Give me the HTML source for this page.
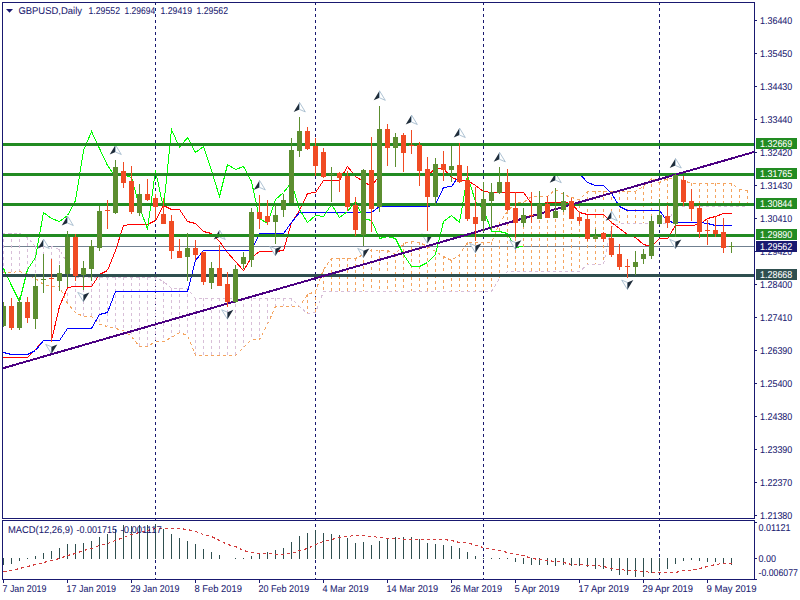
<!DOCTYPE html><html><head><meta charset="utf-8"><style>html,body{margin:0;padding:0;background:#fff;width:800px;height:600px;overflow:hidden}svg{display:block}text{font-family:"Liberation Sans",sans-serif;text-rendering:geometricPrecision}</style></head><body>
<svg width="800" height="600" viewBox="0 0 800 600">
<defs><clipPath id="cm"><rect x="3" y="3" width="751" height="515"/></clipPath><clipPath id="cd"><rect x="3" y="521" width="751" height="58"/></clipPath></defs>
<rect width="800" height="600" fill="#fff"/>
<g clip-path="url(#cm)" shape-rendering="crispEdges">
<line x1="155.5" y1="2" x2="155.5" y2="518" stroke="#191970" stroke-width="1" stroke-dasharray="3 3"/>
<line x1="315.5" y1="2" x2="315.5" y2="518" stroke="#191970" stroke-width="1" stroke-dasharray="3 3"/>
<line x1="483.5" y1="2" x2="483.5" y2="518" stroke="#191970" stroke-width="1" stroke-dasharray="3 3"/>
<line x1="659.5" y1="2" x2="659.5" y2="518" stroke="#191970" stroke-width="1" stroke-dasharray="3 3"/>
<rect x="2" y="246" width="752" height="1" fill="#708090"/>
<line x1="-4.5" y1="233" x2="-4.5" y2="272" stroke="#d8bfd8" stroke-dasharray="3 3"/>
<line x1="3.5" y1="233" x2="3.5" y2="272" stroke="#d8bfd8" stroke-dasharray="3 3"/>
<line x1="11.5" y1="233" x2="11.5" y2="272" stroke="#d8bfd8" stroke-dasharray="3 3"/>
<line x1="19.5" y1="233" x2="19.5" y2="271" stroke="#d8bfd8" stroke-dasharray="3 3"/>
<line x1="27.5" y1="237" x2="27.5" y2="274" stroke="#d8bfd8" stroke-dasharray="3 3"/>
<line x1="35.5" y1="246" x2="35.5" y2="278" stroke="#d8bfd8" stroke-dasharray="3 3"/>
<line x1="43.5" y1="246" x2="43.5" y2="284" stroke="#d8bfd8" stroke-dasharray="3 3"/>
<line x1="51.5" y1="246" x2="51.5" y2="286" stroke="#d8bfd8" stroke-dasharray="3 3"/>
<line x1="59.5" y1="249" x2="59.5" y2="286" stroke="#d8bfd8" stroke-dasharray="3 3"/>
<line x1="67.5" y1="263" x2="67.5" y2="303" stroke="#d8bfd8" stroke-dasharray="3 3"/>
<line x1="75.5" y1="277" x2="75.5" y2="312" stroke="#d8bfd8" stroke-dasharray="3 3"/>
<line x1="83.5" y1="277" x2="83.5" y2="316" stroke="#d8bfd8" stroke-dasharray="3 3"/>
<line x1="91.5" y1="277" x2="91.5" y2="316" stroke="#d8bfd8" stroke-dasharray="3 3"/>
<line x1="99.5" y1="277" x2="99.5" y2="324" stroke="#d8bfd8" stroke-dasharray="3 3"/>
<line x1="107.5" y1="277" x2="107.5" y2="326" stroke="#d8bfd8" stroke-dasharray="3 3"/>
<line x1="115.5" y1="277" x2="115.5" y2="328" stroke="#d8bfd8" stroke-dasharray="3 3"/>
<line x1="123.5" y1="277" x2="123.5" y2="330" stroke="#d8bfd8" stroke-dasharray="3 3"/>
<line x1="131.5" y1="277" x2="131.5" y2="336" stroke="#d8bfd8" stroke-dasharray="3 3"/>
<line x1="139.5" y1="277" x2="139.5" y2="346" stroke="#d8bfd8" stroke-dasharray="3 3"/>
<line x1="147.5" y1="277" x2="147.5" y2="346" stroke="#d8bfd8" stroke-dasharray="3 3"/>
<line x1="155.5" y1="277" x2="155.5" y2="341" stroke="#d8bfd8" stroke-dasharray="3 3"/>
<line x1="163.5" y1="281" x2="163.5" y2="341" stroke="#d8bfd8" stroke-dasharray="3 3"/>
<line x1="171.5" y1="288" x2="171.5" y2="337" stroke="#d8bfd8" stroke-dasharray="3 3"/>
<line x1="179.5" y1="288" x2="179.5" y2="332" stroke="#d8bfd8" stroke-dasharray="3 3"/>
<line x1="187.5" y1="288" x2="187.5" y2="335" stroke="#d8bfd8" stroke-dasharray="3 3"/>
<line x1="195.5" y1="298" x2="195.5" y2="355" stroke="#d8bfd8" stroke-dasharray="3 3"/>
<line x1="203.5" y1="298" x2="203.5" y2="355" stroke="#d8bfd8" stroke-dasharray="3 3"/>
<line x1="211.5" y1="298" x2="211.5" y2="355" stroke="#d8bfd8" stroke-dasharray="3 3"/>
<line x1="219.5" y1="298" x2="219.5" y2="355" stroke="#d8bfd8" stroke-dasharray="3 3"/>
<line x1="227.5" y1="298" x2="227.5" y2="355" stroke="#d8bfd8" stroke-dasharray="3 3"/>
<line x1="235.5" y1="298" x2="235.5" y2="355" stroke="#d8bfd8" stroke-dasharray="3 3"/>
<line x1="243.5" y1="298" x2="243.5" y2="347" stroke="#d8bfd8" stroke-dasharray="3 3"/>
<line x1="251.5" y1="298" x2="251.5" y2="339" stroke="#d8bfd8" stroke-dasharray="3 3"/>
<line x1="259.5" y1="298" x2="259.5" y2="339" stroke="#d8bfd8" stroke-dasharray="3 3"/>
<line x1="267.5" y1="298" x2="267.5" y2="324" stroke="#d8bfd8" stroke-dasharray="3 3"/>
<line x1="275.5" y1="298" x2="275.5" y2="306" stroke="#d8bfd8" stroke-dasharray="3 3"/>
<line x1="283.5" y1="298" x2="283.5" y2="306" stroke="#d8bfd8" stroke-dasharray="3 3"/>
<line x1="291.5" y1="298" x2="291.5" y2="306" stroke="#d8bfd8" stroke-dasharray="3 3"/>
<line x1="299.5" y1="306" x2="299.5" y2="306" stroke="#d8bfd8" stroke-dasharray="3 3"/>
<line x1="307.5" y1="294" x2="307.5" y2="313" stroke="#f4a460" stroke-dasharray="3 3"/>
<line x1="315.5" y1="291" x2="315.5" y2="312" stroke="#f4a460" stroke-dasharray="3 3"/>
<line x1="323.5" y1="269" x2="323.5" y2="291" stroke="#f4a460" stroke-dasharray="3 3"/>
<line x1="331.5" y1="258" x2="331.5" y2="291" stroke="#f4a460" stroke-dasharray="3 3"/>
<line x1="339.5" y1="258" x2="339.5" y2="291" stroke="#f4a460" stroke-dasharray="3 3"/>
<line x1="347.5" y1="258" x2="347.5" y2="291" stroke="#f4a460" stroke-dasharray="3 3"/>
<line x1="355.5" y1="258" x2="355.5" y2="291" stroke="#f4a460" stroke-dasharray="3 3"/>
<line x1="363.5" y1="254" x2="363.5" y2="291" stroke="#f4a460" stroke-dasharray="3 3"/>
<line x1="371.5" y1="249" x2="371.5" y2="291" stroke="#f4a460" stroke-dasharray="3 3"/>
<line x1="379.5" y1="250" x2="379.5" y2="291" stroke="#f4a460" stroke-dasharray="3 3"/>
<line x1="387.5" y1="250" x2="387.5" y2="291" stroke="#f4a460" stroke-dasharray="3 3"/>
<line x1="395.5" y1="254" x2="395.5" y2="291" stroke="#f4a460" stroke-dasharray="3 3"/>
<line x1="403.5" y1="243" x2="403.5" y2="291" stroke="#f4a460" stroke-dasharray="3 3"/>
<line x1="411.5" y1="241" x2="411.5" y2="291" stroke="#f4a460" stroke-dasharray="3 3"/>
<line x1="419.5" y1="242" x2="419.5" y2="291" stroke="#f4a460" stroke-dasharray="3 3"/>
<line x1="427.5" y1="246" x2="427.5" y2="291" stroke="#f4a460" stroke-dasharray="3 3"/>
<line x1="435.5" y1="251" x2="435.5" y2="291" stroke="#f4a460" stroke-dasharray="3 3"/>
<line x1="443.5" y1="256" x2="443.5" y2="291" stroke="#f4a460" stroke-dasharray="3 3"/>
<line x1="451.5" y1="260" x2="451.5" y2="291" stroke="#f4a460" stroke-dasharray="3 3"/>
<line x1="459.5" y1="254" x2="459.5" y2="291" stroke="#f4a460" stroke-dasharray="3 3"/>
<line x1="467.5" y1="242" x2="467.5" y2="291" stroke="#f4a460" stroke-dasharray="3 3"/>
<line x1="475.5" y1="242" x2="475.5" y2="291" stroke="#f4a460" stroke-dasharray="3 3"/>
<line x1="483.5" y1="242" x2="483.5" y2="291" stroke="#f4a460" stroke-dasharray="3 3"/>
<line x1="491.5" y1="242" x2="491.5" y2="291" stroke="#f4a460" stroke-dasharray="3 3"/>
<line x1="499.5" y1="222" x2="499.5" y2="278" stroke="#f4a460" stroke-dasharray="3 3"/>
<line x1="507.5" y1="211" x2="507.5" y2="271" stroke="#f4a460" stroke-dasharray="3 3"/>
<line x1="515.5" y1="202" x2="515.5" y2="271" stroke="#f4a460" stroke-dasharray="3 3"/>
<line x1="523.5" y1="202" x2="523.5" y2="271" stroke="#f4a460" stroke-dasharray="3 3"/>
<line x1="531.5" y1="196" x2="531.5" y2="271" stroke="#f4a460" stroke-dasharray="3 3"/>
<line x1="539.5" y1="196" x2="539.5" y2="271" stroke="#f4a460" stroke-dasharray="3 3"/>
<line x1="547.5" y1="196" x2="547.5" y2="271" stroke="#f4a460" stroke-dasharray="3 3"/>
<line x1="555.5" y1="189" x2="555.5" y2="271" stroke="#f4a460" stroke-dasharray="3 3"/>
<line x1="563.5" y1="194" x2="563.5" y2="271" stroke="#f4a460" stroke-dasharray="3 3"/>
<line x1="571.5" y1="197" x2="571.5" y2="271" stroke="#f4a460" stroke-dasharray="3 3"/>
<line x1="579.5" y1="199" x2="579.5" y2="271" stroke="#f4a460" stroke-dasharray="3 3"/>
<line x1="587.5" y1="191" x2="587.5" y2="264" stroke="#f4a460" stroke-dasharray="3 3"/>
<line x1="595.5" y1="191" x2="595.5" y2="264" stroke="#f4a460" stroke-dasharray="3 3"/>
<line x1="603.5" y1="191" x2="603.5" y2="264" stroke="#f4a460" stroke-dasharray="3 3"/>
<line x1="611.5" y1="191" x2="611.5" y2="226" stroke="#f4a460" stroke-dasharray="3 3"/>
<line x1="619.5" y1="191" x2="619.5" y2="223" stroke="#f4a460" stroke-dasharray="3 3"/>
<line x1="627.5" y1="191" x2="627.5" y2="223" stroke="#f4a460" stroke-dasharray="3 3"/>
<line x1="635.5" y1="191" x2="635.5" y2="223" stroke="#f4a460" stroke-dasharray="3 3"/>
<line x1="643.5" y1="186" x2="643.5" y2="223" stroke="#f4a460" stroke-dasharray="3 3"/>
<line x1="651.5" y1="178" x2="651.5" y2="223" stroke="#f4a460" stroke-dasharray="3 3"/>
<line x1="659.5" y1="182" x2="659.5" y2="223" stroke="#f4a460" stroke-dasharray="3 3"/>
<line x1="667.5" y1="178" x2="667.5" y2="223" stroke="#f4a460" stroke-dasharray="3 3"/>
<line x1="675.5" y1="178" x2="675.5" y2="206" stroke="#f4a460" stroke-dasharray="3 3"/>
<line x1="683.5" y1="180" x2="683.5" y2="206" stroke="#f4a460" stroke-dasharray="3 3"/>
<line x1="691.5" y1="183" x2="691.5" y2="206" stroke="#f4a460" stroke-dasharray="3 3"/>
<line x1="699.5" y1="183" x2="699.5" y2="206" stroke="#f4a460" stroke-dasharray="3 3"/>
<line x1="707.5" y1="183" x2="707.5" y2="206" stroke="#f4a460" stroke-dasharray="3 3"/>
<line x1="715.5" y1="183" x2="715.5" y2="206" stroke="#f4a460" stroke-dasharray="3 3"/>
<line x1="723.5" y1="183" x2="723.5" y2="206" stroke="#f4a460" stroke-dasharray="3 3"/>
<line x1="731.5" y1="183" x2="731.5" y2="206" stroke="#f4a460" stroke-dasharray="3 3"/>
<line x1="739.5" y1="189" x2="739.5" y2="206" stroke="#f4a460" stroke-dasharray="3 3"/>
<line x1="747.5" y1="190" x2="747.5" y2="206" stroke="#f4a460" stroke-dasharray="3 3"/>
<polyline points="-4.5,272.5 3.5,272.5 11.5,272.5 19.5,271.5 27.5,274.5 35.5,278.5 43.5,284.5 51.5,286.5 59.5,286.5 67.5,303.5 75.5,312.5 83.5,316.5 91.5,316.5 99.5,324.5 107.5,326.5 115.5,328.5 123.5,330.5 131.5,336.5 139.5,346.5 147.5,346.5 155.5,341.5 163.5,341.5 171.5,337.5 179.5,332.5 187.5,335.5 195.5,355.5 203.5,355.5 211.5,355.5 219.5,355.5 227.5,355.5 235.5,355.5 243.5,347.5 251.5,339.5 259.5,339.5 267.5,324.5 275.5,306.5 283.5,306.5 291.5,306.5 299.5,306.5 307.5,294.5 315.5,291.5 323.5,269.5 331.5,258.5 339.5,258.5 347.5,258.5 355.5,258.5 363.5,254.5 371.5,249.5 379.5,250.5 387.5,250.5 395.5,254.5 403.5,243.5 411.5,241.5 419.5,242.5 427.5,246.5 435.5,251.5 443.5,256.5 451.5,260.5 459.5,254.5 467.5,242.5 475.5,242.5 483.5,242.5 491.5,242.5 499.5,222.5 507.5,211.5 515.5,202.5 523.5,202.5 531.5,196.5 539.5,196.5 547.5,196.5 555.5,189.5 563.5,194.5 571.5,197.5 579.5,199.5 587.5,191.5 595.5,191.5 603.5,191.5 611.5,191.5 619.5,191.5 627.5,191.5 635.5,191.5 643.5,186.5 651.5,178.5 659.5,182.5 667.5,178.5 675.5,178.5 683.5,180.5 691.5,183.5 699.5,183.5 707.5,183.5 715.5,183.5 723.5,183.5 731.5,183.5 739.5,189.5 747.5,190.5" fill="none" stroke="#f4a460" stroke-width="1" stroke-dasharray="3 3"/>
<polyline points="-4.5,233.5 3.5,233.5 11.5,233.5 19.5,233.5 27.5,237.5 35.5,246.5 43.5,246.5 51.5,246.5 59.5,249.5 67.5,263.5 75.5,277.5 83.5,277.5 91.5,277.5 99.5,277.5 107.5,277.5 115.5,277.5 123.5,277.5 131.5,277.5 139.5,277.5 147.5,277.5 155.5,277.5 163.5,281.5 171.5,288.5 179.5,288.5 187.5,288.5 195.5,298.5 203.5,298.5 211.5,298.5 219.5,298.5 227.5,298.5 235.5,298.5 243.5,298.5 251.5,298.5 259.5,298.5 267.5,298.5 275.5,298.5 283.5,298.5 291.5,298.5 299.5,306.5 307.5,313.5 315.5,312.5 323.5,291.5 331.5,291.5 339.5,291.5 347.5,291.5 355.5,291.5 363.5,291.5 371.5,291.5 379.5,291.5 387.5,291.5 395.5,291.5 403.5,291.5 411.5,291.5 419.5,291.5 427.5,291.5 435.5,291.5 443.5,291.5 451.5,291.5 459.5,291.5 467.5,291.5 475.5,291.5 483.5,291.5 491.5,291.5 499.5,278.5 507.5,271.5 515.5,271.5 523.5,271.5 531.5,271.5 539.5,271.5 547.5,271.5 555.5,271.5 563.5,271.5 571.5,271.5 579.5,271.5 587.5,264.5 595.5,264.5 603.5,264.5 611.5,226.5 619.5,223.5 627.5,223.5 635.5,223.5 643.5,223.5 651.5,223.5 659.5,223.5 667.5,223.5 675.5,206.5 683.5,206.5 691.5,206.5 699.5,206.5 707.5,206.5 715.5,206.5 723.5,206.5 731.5,206.5 739.5,206.5 747.5,206.5" fill="none" stroke="#d8bfd8" stroke-width="1" stroke-dasharray="3 3"/>
<polyline points="-4.5,357.5 3.5,357.5 11.5,357.5 19.5,357.5 27.5,357.5 35.5,349.5 43.5,340.5 51.5,340.5 59.5,306.5 67.5,287.5 75.5,286.5 83.5,286.5 91.5,286.5 99.5,274.5 107.5,270.5 115.5,250.5 123.5,225.5 131.5,224.5 139.5,224.5 147.5,224.5 155.5,220.5 163.5,205.5 171.5,209.5 179.5,209.5 187.5,221.5 195.5,223.5 203.5,231.5 211.5,233.5 219.5,241.5 227.5,252.5 235.5,261.5 243.5,270.5 251.5,257.5 259.5,251.5 267.5,251.5 275.5,251.5 283.5,250.5 291.5,222.5 299.5,210.5 307.5,193.5 315.5,192.5 323.5,180.5 331.5,180.5 339.5,180.5 347.5,166.5 355.5,176.5 363.5,181.5 371.5,186.5 379.5,175.5 387.5,175.5 395.5,175.5 403.5,175.5 411.5,175.5 419.5,175.5 427.5,175.5 435.5,168.5 443.5,168.5 451.5,177.5 459.5,180.5 467.5,180.5 475.5,185.5 483.5,191.5 491.5,192.5 499.5,192.5 507.5,192.5 515.5,192.5 523.5,192.5 531.5,203.5 539.5,204.5 547.5,202.5 555.5,202.5 563.5,202.5 571.5,203.5 579.5,212.5 587.5,214.5 595.5,214.5 603.5,214.5 611.5,222.5 619.5,228.5 627.5,234.5 635.5,237.5 643.5,244.5 651.5,246.5 659.5,238.5 667.5,238.5 675.5,225.5 683.5,225.5 691.5,225.5 699.5,224.5 707.5,218.5 715.5,216.5 723.5,213.5 731.5,213.5" fill="none" stroke="#ff0000" stroke-width="1"/>
<polyline points="-4.5,352.5 3.5,352.5 11.5,354.5 19.5,354.5 27.5,354.5 35.5,350.5 43.5,340.5 51.5,340.5 59.5,340.5 67.5,328.5 75.5,328.5 83.5,328.5 91.5,328.5 99.5,314.5 107.5,312.5 115.5,291.5 123.5,291.5 131.5,291.5 139.5,291.5 147.5,291.5 155.5,291.5 163.5,291.5 171.5,291.5 179.5,291.5 187.5,291.5 195.5,260.5 203.5,250.5 211.5,250.5 219.5,250.5 227.5,250.5 235.5,250.5 243.5,250.5 251.5,250.5 259.5,233.5 267.5,233.5 275.5,233.5 283.5,233.5 291.5,222.5 299.5,212.5 307.5,212.5 315.5,212.5 323.5,212.5 331.5,212.5 339.5,212.5 347.5,212.5 355.5,212.5 363.5,212.5 371.5,212.5 379.5,206.5 387.5,206.5 395.5,206.5 403.5,206.5 411.5,206.5 419.5,206.5 427.5,206.5 435.5,204.5 443.5,187.5 451.5,186.5 459.5,175.5 467.5,175.5 475.5,175.5 483.5,175.5 491.5,175.5 499.5,175.5 507.5,175.5 515.5,175.5 523.5,175.5 531.5,175.5 539.5,175.5 547.5,175.5 555.5,175.5 563.5,175.5 571.5,173.5 579.5,173.5 587.5,182.5 595.5,185.5 603.5,185.5 611.5,193.5 619.5,206.5 627.5,210.5 635.5,210.5 643.5,210.5 651.5,210.5 659.5,210.5 667.5,221.5 675.5,222.5 683.5,222.5 691.5,222.5 699.5,222.5 707.5,223.5 715.5,225.5 723.5,225.5 731.5,225.5" fill="none" stroke="#0000ff" stroke-width="1"/>
<polyline points="-20.5,248.5 -12.5,254.5 -4.5,281.5 3.5,268.5 11.5,285.5 19.5,301.5 27.5,269.5 35.5,257.5 43.5,212.5 51.5,218.5 59.5,221.5 67.5,215.5 75.5,200.5 83.5,150.5 91.5,131.5 99.5,148.5 107.5,165.5 115.5,176.5 123.5,174.5 131.5,177.5 139.5,206.5 147.5,229.5 155.5,170.5 163.5,208.5 171.5,129.5 179.5,147.5 187.5,137.5 195.5,152.5 203.5,146.5 211.5,170.5 219.5,196.5 227.5,164.5 235.5,169.5 243.5,166.5 251.5,181.5 259.5,218.5 267.5,223.5 275.5,199.5 283.5,192.5 291.5,182.5 299.5,209.5 307.5,222.5 315.5,215.5 323.5,216.5 331.5,204.5 339.5,217.5 347.5,211.5 355.5,201.5 363.5,218.5 371.5,220.5 379.5,238.5 387.5,236.5 395.5,238.5 403.5,254.5 411.5,266.5 419.5,266.5 427.5,262.5 435.5,254.5 443.5,221.5 451.5,215.5 459.5,222.5 467.5,175.5 475.5,201.5 483.5,208.5 491.5,231.5 499.5,231.5 507.5,233.5 515.5,247.5 523.5,246.5" fill="none" stroke="#00ff00" stroke-width="1"/>
</g>
<g clip-path="url(#cm)">
<polygon points="43.5,239 37.7,248.5 43.5,246" fill="#1e2c3a"/><polygon points="43.5,239 49.3,248.5 43.5,246" fill="#fff" stroke="#9ab4c8" stroke-width="0.8"/>
<polygon points="51.5,353.8 45.7,344.4 51.5,346.8" fill="#fff" stroke="#9ab4c8" stroke-width="0.8"/><polygon points="51.5,353.8 57.3,344.4 51.5,346.8" fill="#1e2c3a"/>
<polygon points="67.5,216 61.7,225.5 67.5,223" fill="#1e2c3a"/><polygon points="67.5,216 73.3,225.5 67.5,223" fill="#fff" stroke="#9ab4c8" stroke-width="0.8"/>
<polygon points="83.5,301.8 77.7,292.4 83.5,294.8" fill="#fff" stroke="#9ab4c8" stroke-width="0.8"/><polygon points="83.5,301.8 89.3,292.4 83.5,294.8" fill="#1e2c3a"/>
<polygon points="115.5,145 109.7,154.5 115.5,152" fill="#1e2c3a"/><polygon points="115.5,145 121.3,154.5 115.5,152" fill="#fff" stroke="#9ab4c8" stroke-width="0.8"/>
<polygon points="219.5,230 213.7,239.5 219.5,237" fill="#1e2c3a"/><polygon points="219.5,230 225.3,239.5 219.5,237" fill="#fff" stroke="#9ab4c8" stroke-width="0.8"/>
<polygon points="227.5,319.2 221.7,309.79999999999995 227.5,312.2" fill="#fff" stroke="#9ab4c8" stroke-width="0.8"/><polygon points="227.5,319.2 233.3,309.79999999999995 227.5,312.2" fill="#1e2c3a"/>
<polygon points="259.5,180.4 253.7,189.9 259.5,187.4" fill="#1e2c3a"/><polygon points="259.5,180.4 265.3,189.9 259.5,187.4" fill="#fff" stroke="#9ab4c8" stroke-width="0.8"/>
<polygon points="275.5,255.8 269.7,246.4 275.5,248.8" fill="#fff" stroke="#9ab4c8" stroke-width="0.8"/><polygon points="275.5,255.8 281.3,246.4 275.5,248.8" fill="#1e2c3a"/>
<polygon points="299.5,102.4 293.7,111.9 299.5,109.4" fill="#1e2c3a"/><polygon points="299.5,102.4 305.3,111.9 299.5,109.4" fill="#fff" stroke="#9ab4c8" stroke-width="0.8"/>
<polygon points="363.5,257.8 357.7,248.4 363.5,250.8" fill="#fff" stroke="#9ab4c8" stroke-width="0.8"/><polygon points="363.5,257.8 369.3,248.4 363.5,250.8" fill="#1e2c3a"/>
<polygon points="379.5,90.8 373.7,100.3 379.5,97.8" fill="#1e2c3a"/><polygon points="379.5,90.8 385.3,100.3 379.5,97.8" fill="#fff" stroke="#9ab4c8" stroke-width="0.8"/>
<polygon points="411.5,115 405.7,124.5 411.5,122" fill="#1e2c3a"/><polygon points="411.5,115 417.3,124.5 411.5,122" fill="#fff" stroke="#9ab4c8" stroke-width="0.8"/>
<polygon points="427.5,243.3 421.7,233.9 427.5,236.3" fill="#fff" stroke="#9ab4c8" stroke-width="0.8"/><polygon points="427.5,243.3 433.3,233.9 427.5,236.3" fill="#1e2c3a"/>
<polygon points="459.5,128 453.7,137.5 459.5,135" fill="#1e2c3a"/><polygon points="459.5,128 465.3,137.5 459.5,135" fill="#fff" stroke="#9ab4c8" stroke-width="0.8"/>
<polygon points="475.5,252.8 469.7,243.4 475.5,245.8" fill="#fff" stroke="#9ab4c8" stroke-width="0.8"/><polygon points="475.5,252.8 481.3,243.4 475.5,245.8" fill="#1e2c3a"/>
<polygon points="499.5,152.3 493.7,161.8 499.5,159.3" fill="#1e2c3a"/><polygon points="499.5,152.3 505.3,161.8 499.5,159.3" fill="#fff" stroke="#9ab4c8" stroke-width="0.8"/>
<polygon points="515.5,249.60000000000002 509.7,240.20000000000002 515.5,242.60000000000002" fill="#fff" stroke="#9ab4c8" stroke-width="0.8"/><polygon points="515.5,249.60000000000002 521.3,240.20000000000002 515.5,242.60000000000002" fill="#1e2c3a"/>
<polygon points="555.5,173.2 549.7,182.7 555.5,180.2" fill="#1e2c3a"/><polygon points="555.5,173.2 561.3,182.7 555.5,180.2" fill="#fff" stroke="#9ab4c8" stroke-width="0.8"/>
<polygon points="611.5,211.2 605.7,220.7 611.5,218.2" fill="#1e2c3a"/><polygon points="611.5,211.2 617.3,220.7 611.5,218.2" fill="#fff" stroke="#9ab4c8" stroke-width="0.8"/>
<polygon points="627.5,289.5 621.7,280.09999999999997 627.5,282.5" fill="#fff" stroke="#9ab4c8" stroke-width="0.8"/><polygon points="627.5,289.5 633.3,280.09999999999997 627.5,282.5" fill="#1e2c3a"/>
<polygon points="675.5,158.5 669.7,168.0 675.5,165.5" fill="#1e2c3a"/><polygon points="675.5,158.5 681.3,168.0 675.5,165.5" fill="#fff" stroke="#9ab4c8" stroke-width="0.8"/>
<polygon points="675.5,248.8 669.7,239.4 675.5,241.8" fill="#fff" stroke="#9ab4c8" stroke-width="0.8"/><polygon points="675.5,248.8 681.3,239.4 675.5,241.8" fill="#1e2c3a"/>
</g>
<g clip-path="url(#cm)" shape-rendering="crispEdges">
<rect x="2" y="143" width="752" height="3" fill="#228b22"/>
<rect x="2" y="173" width="752" height="3" fill="#228b22"/>
<rect x="2" y="203" width="752" height="3" fill="#228b22"/>
<rect x="2" y="234" width="752" height="3" fill="#228b22"/>
<rect x="2" y="274" width="752" height="3" fill="#2f4f4f"/>
<line x1="2" y1="368.5" x2="754" y2="152.0" stroke="#4b0082" stroke-width="2"/>
<rect x="3" y="302" width="1" height="25" fill="#5c8e30"/>
<rect x="1" y="306" width="5" height="20" fill="#5c8e30"/>
<rect x="11" y="298" width="1" height="32" fill="#f04b23"/>
<rect x="9" y="306" width="5" height="22" fill="#f04b23"/>
<rect x="19" y="297" width="1" height="33" fill="#5c8e30"/>
<rect x="17" y="302" width="5" height="26" fill="#5c8e30"/>
<rect x="27" y="297" width="1" height="26" fill="#f04b23"/>
<rect x="25" y="302" width="5" height="16" fill="#f04b23"/>
<rect x="35" y="274" width="1" height="55" fill="#5c8e30"/>
<rect x="33" y="286" width="5" height="33" fill="#5c8e30"/>
<rect x="43" y="254" width="1" height="39" fill="#5c8e30"/>
<rect x="41" y="279" width="5" height="1" fill="#5c8e30"/>
<rect x="51" y="259" width="1" height="83" fill="#f04b23"/>
<rect x="49" y="278" width="5" height="1" fill="#f04b23"/>
<rect x="59" y="265" width="1" height="26" fill="#5c8e30"/>
<rect x="57" y="273" width="5" height="8" fill="#5c8e30"/>
<rect x="67" y="231" width="1" height="56" fill="#5c8e30"/>
<rect x="65" y="237" width="5" height="37" fill="#5c8e30"/>
<rect x="75" y="234" width="1" height="47" fill="#f04b23"/>
<rect x="73" y="237" width="5" height="39" fill="#f04b23"/>
<rect x="83" y="261" width="1" height="29" fill="#5c8e30"/>
<rect x="81" y="268" width="5" height="7" fill="#5c8e30"/>
<rect x="91" y="240" width="1" height="41" fill="#5c8e30"/>
<rect x="89" y="246" width="5" height="23" fill="#5c8e30"/>
<rect x="99" y="206" width="1" height="45" fill="#5c8e30"/>
<rect x="97" y="211" width="5" height="37" fill="#5c8e30"/>
<rect x="107" y="200" width="1" height="29" fill="#f04b23"/>
<rect x="105" y="210" width="5" height="1" fill="#f04b23"/>
<rect x="115" y="160" width="1" height="54" fill="#5c8e30"/>
<rect x="113" y="167" width="5" height="46" fill="#5c8e30"/>
<rect x="123" y="162" width="1" height="26" fill="#f04b23"/>
<rect x="121" y="171" width="5" height="12" fill="#f04b23"/>
<rect x="131" y="166" width="1" height="48" fill="#f04b23"/>
<rect x="129" y="181" width="5" height="31" fill="#f04b23"/>
<rect x="139" y="184" width="1" height="32" fill="#5c8e30"/>
<rect x="137" y="194" width="5" height="19" fill="#5c8e30"/>
<rect x="147" y="179" width="1" height="22" fill="#f04b23"/>
<rect x="145" y="194" width="5" height="6" fill="#f04b23"/>
<rect x="155" y="194" width="1" height="26" fill="#f04b23"/>
<rect x="153" y="198" width="5" height="9" fill="#f04b23"/>
<rect x="163" y="198" width="1" height="26" fill="#f04b23"/>
<rect x="161" y="214" width="5" height="10" fill="#f04b23"/>
<rect x="171" y="215" width="1" height="44" fill="#f04b23"/>
<rect x="169" y="221" width="5" height="30" fill="#f04b23"/>
<rect x="179" y="239" width="1" height="19" fill="#f04b23"/>
<rect x="177" y="251" width="5" height="7" fill="#f04b23"/>
<rect x="187" y="233" width="1" height="48" fill="#5c8e30"/>
<rect x="185" y="248" width="5" height="9" fill="#5c8e30"/>
<rect x="195" y="240" width="1" height="20" fill="#f04b23"/>
<rect x="193" y="248" width="5" height="7" fill="#f04b23"/>
<rect x="203" y="252" width="1" height="33" fill="#f04b23"/>
<rect x="201" y="252" width="5" height="30" fill="#f04b23"/>
<rect x="211" y="262" width="1" height="27" fill="#5c8e30"/>
<rect x="209" y="268" width="5" height="15" fill="#5c8e30"/>
<rect x="219" y="245" width="1" height="41" fill="#f04b23"/>
<rect x="217" y="268" width="5" height="18" fill="#f04b23"/>
<rect x="227" y="272" width="1" height="35" fill="#f04b23"/>
<rect x="225" y="284" width="5" height="18" fill="#f04b23"/>
<rect x="235" y="265" width="1" height="38" fill="#5c8e30"/>
<rect x="233" y="269" width="5" height="33" fill="#5c8e30"/>
<rect x="243" y="252" width="1" height="17" fill="#5c8e30"/>
<rect x="241" y="257" width="5" height="7" fill="#5c8e30"/>
<rect x="251" y="208" width="1" height="59" fill="#5c8e30"/>
<rect x="249" y="212" width="5" height="48" fill="#5c8e30"/>
<rect x="259" y="195" width="1" height="34" fill="#f04b23"/>
<rect x="257" y="212" width="5" height="7" fill="#f04b23"/>
<rect x="267" y="200" width="1" height="25" fill="#f04b23"/>
<rect x="265" y="216" width="5" height="6" fill="#f04b23"/>
<rect x="275" y="205" width="1" height="39" fill="#5c8e30"/>
<rect x="273" y="215" width="5" height="7" fill="#5c8e30"/>
<rect x="283" y="194" width="1" height="23" fill="#5c8e30"/>
<rect x="281" y="200" width="5" height="10" fill="#5c8e30"/>
<rect x="291" y="138" width="1" height="65" fill="#5c8e30"/>
<rect x="289" y="150" width="5" height="53" fill="#5c8e30"/>
<rect x="299" y="117" width="1" height="40" fill="#5c8e30"/>
<rect x="297" y="131" width="5" height="20" fill="#5c8e30"/>
<rect x="307" y="127" width="1" height="23" fill="#f04b23"/>
<rect x="305" y="131" width="5" height="18" fill="#f04b23"/>
<rect x="315" y="138" width="1" height="38" fill="#f04b23"/>
<rect x="313" y="146" width="5" height="20" fill="#f04b23"/>
<rect x="323" y="148" width="1" height="30" fill="#f04b23"/>
<rect x="321" y="152" width="5" height="25" fill="#f04b23"/>
<rect x="331" y="167" width="1" height="35" fill="#5c8e30"/>
<rect x="329" y="174" width="5" height="1" fill="#5c8e30"/>
<rect x="339" y="172" width="1" height="20" fill="#f04b23"/>
<rect x="337" y="173" width="5" height="5" fill="#f04b23"/>
<rect x="347" y="171" width="1" height="40" fill="#f04b23"/>
<rect x="345" y="176" width="5" height="31" fill="#f04b23"/>
<rect x="355" y="197" width="1" height="39" fill="#f04b23"/>
<rect x="353" y="205" width="5" height="25" fill="#f04b23"/>
<rect x="363" y="169" width="1" height="77" fill="#5c8e30"/>
<rect x="361" y="170" width="5" height="65" fill="#5c8e30"/>
<rect x="371" y="137" width="1" height="95" fill="#f04b23"/>
<rect x="369" y="170" width="5" height="39" fill="#f04b23"/>
<rect x="379" y="106" width="1" height="106" fill="#5c8e30"/>
<rect x="377" y="129" width="5" height="78" fill="#5c8e30"/>
<rect x="387" y="124" width="1" height="42" fill="#f04b23"/>
<rect x="385" y="129" width="5" height="19" fill="#f04b23"/>
<rect x="395" y="133" width="1" height="34" fill="#5c8e30"/>
<rect x="393" y="137" width="5" height="11" fill="#5c8e30"/>
<rect x="403" y="133" width="1" height="39" fill="#f04b23"/>
<rect x="401" y="135" width="5" height="18" fill="#f04b23"/>
<rect x="411" y="130" width="1" height="24" fill="#f04b23"/>
<rect x="409" y="145" width="5" height="1" fill="#f04b23"/>
<rect x="419" y="142" width="1" height="44" fill="#f04b23"/>
<rect x="417" y="145" width="5" height="26" fill="#f04b23"/>
<rect x="427" y="157" width="1" height="74" fill="#f04b23"/>
<rect x="425" y="169" width="5" height="28" fill="#f04b23"/>
<rect x="435" y="158" width="1" height="47" fill="#5c8e30"/>
<rect x="433" y="164" width="5" height="33" fill="#5c8e30"/>
<rect x="443" y="151" width="1" height="30" fill="#f04b23"/>
<rect x="441" y="164" width="5" height="6" fill="#f04b23"/>
<rect x="451" y="146" width="1" height="36" fill="#5c8e30"/>
<rect x="449" y="166" width="5" height="4" fill="#5c8e30"/>
<rect x="459" y="143" width="1" height="40" fill="#f04b23"/>
<rect x="457" y="165" width="5" height="17" fill="#f04b23"/>
<rect x="467" y="166" width="1" height="55" fill="#f04b23"/>
<rect x="465" y="180" width="5" height="39" fill="#f04b23"/>
<rect x="475" y="187" width="1" height="54" fill="#f04b23"/>
<rect x="473" y="217" width="5" height="7" fill="#f04b23"/>
<rect x="483" y="182" width="1" height="50" fill="#5c8e30"/>
<rect x="481" y="199" width="5" height="22" fill="#5c8e30"/>
<rect x="491" y="183" width="1" height="47" fill="#5c8e30"/>
<rect x="489" y="192" width="5" height="9" fill="#5c8e30"/>
<rect x="499" y="167" width="1" height="27" fill="#5c8e30"/>
<rect x="497" y="182" width="5" height="11" fill="#5c8e30"/>
<rect x="507" y="169" width="1" height="42" fill="#f04b23"/>
<rect x="505" y="182" width="5" height="28" fill="#f04b23"/>
<rect x="515" y="192" width="1" height="46" fill="#f04b23"/>
<rect x="513" y="208" width="5" height="15" fill="#f04b23"/>
<rect x="523" y="208" width="1" height="19" fill="#5c8e30"/>
<rect x="521" y="215" width="5" height="8" fill="#5c8e30"/>
<rect x="531" y="192" width="1" height="31" fill="#f04b23"/>
<rect x="529" y="215" width="5" height="1" fill="#f04b23"/>
<rect x="539" y="191" width="1" height="28" fill="#5c8e30"/>
<rect x="537" y="204" width="5" height="15" fill="#5c8e30"/>
<rect x="547" y="196" width="1" height="22" fill="#f04b23"/>
<rect x="545" y="204" width="5" height="14" fill="#f04b23"/>
<rect x="555" y="188" width="1" height="30" fill="#5c8e30"/>
<rect x="553" y="211" width="5" height="7" fill="#5c8e30"/>
<rect x="563" y="192" width="1" height="20" fill="#5c8e30"/>
<rect x="561" y="201" width="5" height="9" fill="#5c8e30"/>
<rect x="571" y="198" width="1" height="21" fill="#f04b23"/>
<rect x="569" y="201" width="5" height="18" fill="#f04b23"/>
<rect x="579" y="212" width="1" height="12" fill="#f04b23"/>
<rect x="577" y="217" width="5" height="4" fill="#f04b23"/>
<rect x="587" y="215" width="1" height="26" fill="#f04b23"/>
<rect x="585" y="219" width="5" height="20" fill="#f04b23"/>
<rect x="595" y="229" width="1" height="10" fill="#5c8e30"/>
<rect x="593" y="236" width="5" height="3" fill="#5c8e30"/>
<rect x="603" y="232" width="1" height="10" fill="#f04b23"/>
<rect x="601" y="233" width="5" height="6" fill="#f04b23"/>
<rect x="611" y="226" width="1" height="31" fill="#f04b23"/>
<rect x="609" y="238" width="5" height="17" fill="#f04b23"/>
<rect x="619" y="244" width="1" height="26" fill="#f04b23"/>
<rect x="617" y="254" width="5" height="13" fill="#f04b23"/>
<rect x="627" y="259" width="1" height="19" fill="#f04b23"/>
<rect x="625" y="266" width="5" height="1" fill="#f04b23"/>
<rect x="635" y="251" width="1" height="24" fill="#5c8e30"/>
<rect x="633" y="262" width="5" height="5" fill="#5c8e30"/>
<rect x="643" y="249" width="1" height="15" fill="#5c8e30"/>
<rect x="641" y="254" width="5" height="5" fill="#5c8e30"/>
<rect x="651" y="216" width="1" height="43" fill="#5c8e30"/>
<rect x="649" y="221" width="5" height="35" fill="#5c8e30"/>
<rect x="659" y="199" width="1" height="26" fill="#5c8e30"/>
<rect x="657" y="215" width="5" height="9" fill="#5c8e30"/>
<rect x="667" y="205" width="1" height="23" fill="#f04b23"/>
<rect x="665" y="216" width="5" height="7" fill="#f04b23"/>
<rect x="675" y="174" width="1" height="63" fill="#5c8e30"/>
<rect x="673" y="175" width="5" height="49" fill="#5c8e30"/>
<rect x="683" y="176" width="1" height="30" fill="#f04b23"/>
<rect x="681" y="180" width="5" height="22" fill="#f04b23"/>
<rect x="691" y="189" width="1" height="32" fill="#f04b23"/>
<rect x="689" y="201" width="5" height="8" fill="#f04b23"/>
<rect x="699" y="205" width="1" height="33" fill="#f04b23"/>
<rect x="697" y="208" width="5" height="24" fill="#f04b23"/>
<rect x="707" y="220" width="1" height="25" fill="#f04b23"/>
<rect x="705" y="230" width="5" height="1" fill="#f04b23"/>
<rect x="715" y="216" width="1" height="21" fill="#f04b23"/>
<rect x="713" y="230" width="5" height="4" fill="#f04b23"/>
<rect x="723" y="218" width="1" height="35" fill="#f04b23"/>
<rect x="721" y="232" width="5" height="16" fill="#f04b23"/>
<rect x="731" y="242" width="1" height="11" fill="#5c8e30"/>
<rect x="729" y="246" width="5" height="1" fill="#5c8e30"/>
</g>
<g clip-path="url(#cd)" shape-rendering="crispEdges">
<line x1="155.5" y1="518" x2="155.5" y2="580" stroke="#191970" stroke-width="1" stroke-dasharray="3 3"/>
<line x1="315.5" y1="518" x2="315.5" y2="580" stroke="#191970" stroke-width="1" stroke-dasharray="3 3"/>
<line x1="483.5" y1="518" x2="483.5" y2="580" stroke="#191970" stroke-width="1" stroke-dasharray="3 3"/>
<line x1="659.5" y1="518" x2="659.5" y2="580" stroke="#191970" stroke-width="1" stroke-dasharray="3 3"/>
<rect x="3" y="558" width="1" height="7" fill="#2f4f4f"/>
<rect x="11" y="558" width="1" height="6" fill="#2f4f4f"/>
<rect x="19" y="558" width="1" height="3" fill="#2f4f4f"/>
<rect x="27" y="558" width="1" height="1" fill="#2f4f4f"/>
<rect x="35" y="556" width="1" height="3" fill="#2f4f4f"/>
<rect x="43" y="553" width="1" height="6" fill="#2f4f4f"/>
<rect x="51" y="551" width="1" height="8" fill="#2f4f4f"/>
<rect x="59" y="548" width="1" height="11" fill="#2f4f4f"/>
<rect x="67" y="544" width="1" height="15" fill="#2f4f4f"/>
<rect x="75" y="544" width="1" height="15" fill="#2f4f4f"/>
<rect x="83" y="543" width="1" height="16" fill="#2f4f4f"/>
<rect x="91" y="541" width="1" height="18" fill="#2f4f4f"/>
<rect x="99" y="537" width="1" height="22" fill="#2f4f4f"/>
<rect x="107" y="534" width="1" height="25" fill="#2f4f4f"/>
<rect x="115" y="529" width="1" height="30" fill="#2f4f4f"/>
<rect x="123" y="525" width="1" height="34" fill="#2f4f4f"/>
<rect x="131" y="526" width="1" height="33" fill="#2f4f4f"/>
<rect x="139" y="525" width="1" height="34" fill="#2f4f4f"/>
<rect x="147" y="525" width="1" height="34" fill="#2f4f4f"/>
<rect x="155" y="524" width="1" height="35" fill="#2f4f4f"/>
<rect x="163" y="529" width="1" height="30" fill="#2f4f4f"/>
<rect x="171" y="534" width="1" height="25" fill="#2f4f4f"/>
<rect x="179" y="538" width="1" height="21" fill="#2f4f4f"/>
<rect x="187" y="541" width="1" height="18" fill="#2f4f4f"/>
<rect x="195" y="544" width="1" height="15" fill="#2f4f4f"/>
<rect x="203" y="549" width="1" height="10" fill="#2f4f4f"/>
<rect x="211" y="552" width="1" height="7" fill="#2f4f4f"/>
<rect x="219" y="555" width="1" height="4" fill="#2f4f4f"/>
<rect x="235" y="558" width="1" height="1" fill="#2f4f4f"/>
<rect x="243" y="558" width="1" height="1" fill="#2f4f4f"/>
<rect x="251" y="556" width="1" height="3" fill="#2f4f4f"/>
<rect x="259" y="553" width="1" height="6" fill="#2f4f4f"/>
<rect x="267" y="552" width="1" height="7" fill="#2f4f4f"/>
<rect x="275" y="550" width="1" height="9" fill="#2f4f4f"/>
<rect x="283" y="548" width="1" height="11" fill="#2f4f4f"/>
<rect x="291" y="542" width="1" height="17" fill="#2f4f4f"/>
<rect x="299" y="536" width="1" height="23" fill="#2f4f4f"/>
<rect x="307" y="533" width="1" height="26" fill="#2f4f4f"/>
<rect x="315" y="530" width="1" height="29" fill="#2f4f4f"/>
<rect x="323" y="533" width="1" height="26" fill="#2f4f4f"/>
<rect x="331" y="534" width="1" height="25" fill="#2f4f4f"/>
<rect x="339" y="535" width="1" height="24" fill="#2f4f4f"/>
<rect x="347" y="538" width="1" height="21" fill="#2f4f4f"/>
<rect x="355" y="543" width="1" height="16" fill="#2f4f4f"/>
<rect x="363" y="542" width="1" height="17" fill="#2f4f4f"/>
<rect x="371" y="545" width="1" height="14" fill="#2f4f4f"/>
<rect x="379" y="541" width="1" height="18" fill="#2f4f4f"/>
<rect x="387" y="538" width="1" height="21" fill="#2f4f4f"/>
<rect x="395" y="537" width="1" height="22" fill="#2f4f4f"/>
<rect x="403" y="537" width="1" height="22" fill="#2f4f4f"/>
<rect x="411" y="537" width="1" height="22" fill="#2f4f4f"/>
<rect x="419" y="539" width="1" height="20" fill="#2f4f4f"/>
<rect x="427" y="543" width="1" height="16" fill="#2f4f4f"/>
<rect x="435" y="544" width="1" height="15" fill="#2f4f4f"/>
<rect x="443" y="545" width="1" height="14" fill="#2f4f4f"/>
<rect x="451" y="546" width="1" height="13" fill="#2f4f4f"/>
<rect x="459" y="548" width="1" height="11" fill="#2f4f4f"/>
<rect x="467" y="552" width="1" height="7" fill="#2f4f4f"/>
<rect x="475" y="556" width="1" height="3" fill="#2f4f4f"/>
<rect x="483" y="558" width="1" height="1" fill="#2f4f4f"/>
<rect x="491" y="558" width="1" height="1" fill="#2f4f4f"/>
<rect x="499" y="558" width="1" height="1" fill="#2f4f4f"/>
<rect x="507" y="558" width="1" height="1" fill="#2f4f4f"/>
<rect x="515" y="558" width="1" height="4" fill="#2f4f4f"/>
<rect x="523" y="558" width="1" height="6" fill="#2f4f4f"/>
<rect x="531" y="558" width="1" height="7" fill="#2f4f4f"/>
<rect x="539" y="558" width="1" height="7" fill="#2f4f4f"/>
<rect x="547" y="558" width="1" height="7" fill="#2f4f4f"/>
<rect x="555" y="558" width="1" height="8" fill="#2f4f4f"/>
<rect x="563" y="558" width="1" height="7" fill="#2f4f4f"/>
<rect x="571" y="558" width="1" height="8" fill="#2f4f4f"/>
<rect x="579" y="558" width="1" height="8" fill="#2f4f4f"/>
<rect x="587" y="558" width="1" height="9" fill="#2f4f4f"/>
<rect x="595" y="558" width="1" height="11" fill="#2f4f4f"/>
<rect x="603" y="558" width="1" height="11" fill="#2f4f4f"/>
<rect x="611" y="558" width="1" height="13" fill="#2f4f4f"/>
<rect x="619" y="558" width="1" height="17" fill="#2f4f4f"/>
<rect x="627" y="558" width="1" height="17" fill="#2f4f4f"/>
<rect x="635" y="558" width="1" height="19" fill="#2f4f4f"/>
<rect x="643" y="558" width="1" height="19" fill="#2f4f4f"/>
<rect x="651" y="558" width="1" height="15" fill="#2f4f4f"/>
<rect x="659" y="558" width="1" height="13" fill="#2f4f4f"/>
<rect x="667" y="558" width="1" height="11" fill="#2f4f4f"/>
<rect x="675" y="558" width="1" height="6" fill="#2f4f4f"/>
<rect x="683" y="558" width="1" height="3" fill="#2f4f4f"/>
<rect x="691" y="558" width="1" height="2" fill="#2f4f4f"/>
<rect x="699" y="558" width="1" height="3" fill="#2f4f4f"/>
<rect x="707" y="558" width="1" height="4" fill="#2f4f4f"/>
<rect x="715" y="558" width="1" height="4" fill="#2f4f4f"/>
<rect x="723" y="558" width="1" height="6" fill="#2f4f4f"/>
<rect x="731" y="558" width="1" height="7" fill="#2f4f4f"/>
<polyline points="3.5,571.5 11.5,570.5 19.5,568.5 27.5,566.5 35.5,564.5 43.5,562.5 51.5,560.5 59.5,558.5 67.5,555.5 75.5,553.5 83.5,550.5 91.5,548.5 99.5,545.5 107.5,543.5 115.5,540.5 123.5,537.5 131.5,534.5 139.5,532.5 147.5,530.5 155.5,528.5 163.5,528.5 171.5,528.5 179.5,528.5 187.5,529.5 195.5,531.5 203.5,534.5 211.5,536.5 219.5,540.5 227.5,544.5 235.5,546.5 243.5,550.5 251.5,552.5 259.5,553.5 267.5,553.5 275.5,554.5 283.5,554.5 291.5,553.5 299.5,550.5 307.5,548.5 315.5,544.5 323.5,541.5 331.5,539.5 339.5,537.5 347.5,536.5 355.5,535.5 363.5,535.5 371.5,536.5 379.5,537.5 387.5,538.5 395.5,538.5 403.5,539.5 411.5,539.5 419.5,539.5 427.5,539.5 435.5,539.5 443.5,539.5 451.5,540.5 459.5,542.5 467.5,542.5 475.5,545.5 483.5,547.5 491.5,549.5 499.5,550.5 507.5,552.5 515.5,554.5 523.5,555.5 531.5,558.5 539.5,559.5 547.5,560.5 555.5,561.5 563.5,562.5 571.5,564.5 579.5,564.5 587.5,565.5 595.5,565.5 603.5,566.5 611.5,568.5 619.5,569.5 627.5,570.5 635.5,570.5 643.5,571.5 651.5,572.5 659.5,572.5 667.5,572.5 675.5,572.5 683.5,570.5 691.5,570.5 699.5,568.5 707.5,566.5 715.5,564.5 723.5,563.5 731.5,563.5" fill="none" stroke="#d23c3c" stroke-width="1" stroke-dasharray="3 3"/>
</g>
<g shape-rendering="crispEdges">
<rect x="2.5" y="2.5" width="752" height="516" fill="none" stroke="#191970"/>
<rect x="2.5" y="520.5" width="752" height="59" fill="none" stroke="#191970"/>
<rect x="155" y="519" width="1" height="1" fill="#191970"/>
<rect x="315" y="519" width="1" height="1" fill="#191970"/>
<rect x="483" y="519" width="1" height="1" fill="#191970"/>
<rect x="659" y="519" width="1" height="1" fill="#191970"/>
<rect x="755" y="20" width="2" height="1" fill="#191970"/>
<rect x="755" y="53" width="2" height="1" fill="#191970"/>
<rect x="755" y="86" width="2" height="1" fill="#191970"/>
<rect x="755" y="119" width="2" height="1" fill="#191970"/>
<rect x="755" y="152" width="2" height="1" fill="#191970"/>
<rect x="755" y="185" width="2" height="1" fill="#191970"/>
<rect x="755" y="218" width="2" height="1" fill="#191970"/>
<rect x="755" y="251" width="2" height="1" fill="#191970"/>
<rect x="755" y="284" width="2" height="1" fill="#191970"/>
<rect x="755" y="317" width="2" height="1" fill="#191970"/>
<rect x="755" y="350" width="2" height="1" fill="#191970"/>
<rect x="755" y="383" width="2" height="1" fill="#191970"/>
<rect x="755" y="416" width="2" height="1" fill="#191970"/>
<rect x="755" y="449" width="2" height="1" fill="#191970"/>
<rect x="755" y="482" width="2" height="1" fill="#191970"/>
<rect x="755" y="515" width="2" height="1" fill="#191970"/>
<rect x="755" y="522" width="2" height="1" fill="#191970"/>
<rect x="755" y="558" width="2" height="1" fill="#191970"/>
<rect x="755" y="579" width="2" height="1" fill="#191970"/>
<rect x="3" y="580" width="1" height="3" fill="#191970"/>
<rect x="67" y="580" width="1" height="3" fill="#191970"/>
<rect x="131" y="580" width="1" height="3" fill="#191970"/>
<rect x="195" y="580" width="1" height="3" fill="#191970"/>
<rect x="259" y="580" width="1" height="3" fill="#191970"/>
<rect x="323" y="580" width="1" height="3" fill="#191970"/>
<rect x="387" y="580" width="1" height="3" fill="#191970"/>
<rect x="451" y="580" width="1" height="3" fill="#191970"/>
<rect x="515" y="580" width="1" height="3" fill="#191970"/>
<rect x="579" y="580" width="1" height="3" fill="#191970"/>
<rect x="643" y="580" width="1" height="3" fill="#191970"/>
<rect x="707" y="580" width="1" height="3" fill="#191970"/>
</g>
<text x="760" y="23.8" font-size="9.85" fill="#191970" stroke="#191970" stroke-width="0.05" textLength="32.3" lengthAdjust="spacingAndGlyphs">1.36440</text>
<text x="760" y="56.8" font-size="9.85" fill="#191970" stroke="#191970" stroke-width="0.05" textLength="32.3" lengthAdjust="spacingAndGlyphs">1.35450</text>
<text x="760" y="89.8" font-size="9.85" fill="#191970" stroke="#191970" stroke-width="0.05" textLength="32.3" lengthAdjust="spacingAndGlyphs">1.34430</text>
<text x="760" y="122.8" font-size="9.85" fill="#191970" stroke="#191970" stroke-width="0.05" textLength="32.3" lengthAdjust="spacingAndGlyphs">1.33440</text>
<text x="760" y="155.8" font-size="9.85" fill="#191970" stroke="#191970" stroke-width="0.05" textLength="32.3" lengthAdjust="spacingAndGlyphs">1.32420</text>
<text x="760" y="188.8" font-size="9.85" fill="#191970" stroke="#191970" stroke-width="0.05" textLength="32.3" lengthAdjust="spacingAndGlyphs">1.31430</text>
<text x="760" y="221.8" font-size="9.85" fill="#191970" stroke="#191970" stroke-width="0.05" textLength="32.3" lengthAdjust="spacingAndGlyphs">1.30410</text>
<text x="760" y="254.8" font-size="9.85" fill="#191970" stroke="#191970" stroke-width="0.05" textLength="32.3" lengthAdjust="spacingAndGlyphs">1.29420</text>
<text x="760" y="287.8" font-size="9.85" fill="#191970" stroke="#191970" stroke-width="0.05" textLength="32.3" lengthAdjust="spacingAndGlyphs">1.28400</text>
<text x="760" y="320.8" font-size="9.85" fill="#191970" stroke="#191970" stroke-width="0.05" textLength="32.3" lengthAdjust="spacingAndGlyphs">1.27410</text>
<text x="760" y="353.8" font-size="9.85" fill="#191970" stroke="#191970" stroke-width="0.05" textLength="32.3" lengthAdjust="spacingAndGlyphs">1.26390</text>
<text x="760" y="386.8" font-size="9.85" fill="#191970" stroke="#191970" stroke-width="0.05" textLength="32.3" lengthAdjust="spacingAndGlyphs">1.25400</text>
<text x="760" y="419.8" font-size="9.85" fill="#191970" stroke="#191970" stroke-width="0.05" textLength="32.3" lengthAdjust="spacingAndGlyphs">1.24380</text>
<text x="760" y="452.8" font-size="9.85" fill="#191970" stroke="#191970" stroke-width="0.05" textLength="32.3" lengthAdjust="spacingAndGlyphs">1.23390</text>
<text x="760" y="485.8" font-size="9.85" fill="#191970" stroke="#191970" stroke-width="0.05" textLength="32.3" lengthAdjust="spacingAndGlyphs">1.22370</text>
<text x="760" y="518.8" font-size="9.85" fill="#191970" stroke="#191970" stroke-width="0.05" textLength="32.3" lengthAdjust="spacingAndGlyphs">1.21380</text>
<rect x="756" y="138" width="41" height="11" fill="#228b22" shape-rendering="crispEdges"/>
<text x="760" y="147" font-size="9.85" fill="#ffffff" stroke="#ffffff" stroke-width="0.05" textLength="32.3" lengthAdjust="spacingAndGlyphs">1.32669</text>
<rect x="756" y="168" width="41" height="11" fill="#228b22" shape-rendering="crispEdges"/>
<text x="760" y="177" font-size="9.85" fill="#ffffff" stroke="#ffffff" stroke-width="0.05" textLength="32.3" lengthAdjust="spacingAndGlyphs">1.31765</text>
<rect x="756" y="198" width="41" height="11" fill="#228b22" shape-rendering="crispEdges"/>
<text x="760" y="207" font-size="9.85" fill="#ffffff" stroke="#ffffff" stroke-width="0.05" textLength="32.3" lengthAdjust="spacingAndGlyphs">1.30844</text>
<rect x="756" y="229" width="41" height="11" fill="#228b22" shape-rendering="crispEdges"/>
<text x="760" y="238" font-size="9.85" fill="#ffffff" stroke="#ffffff" stroke-width="0.05" textLength="32.3" lengthAdjust="spacingAndGlyphs">1.29890</text>
<rect x="756" y="241" width="41" height="11" fill="#191970" shape-rendering="crispEdges"/>
<text x="760" y="250" font-size="9.85" fill="#ffffff" stroke="#ffffff" stroke-width="0.05" textLength="32.3" lengthAdjust="spacingAndGlyphs">1.29562</text>
<rect x="756" y="269" width="41" height="11" fill="#2f4f4f" shape-rendering="crispEdges"/>
<text x="760" y="278" font-size="9.85" fill="#ffffff" stroke="#ffffff" stroke-width="0.05" textLength="32.3" lengthAdjust="spacingAndGlyphs">1.28668</text>
<text x="758.5" y="531" font-size="9.85" fill="#191970" stroke="#191970" stroke-width="0.05" textLength="32" lengthAdjust="spacingAndGlyphs">0.01121</text>
<text x="758.5" y="561.5" font-size="9.85" fill="#191970" stroke="#191970" stroke-width="0.05" textLength="17.5" lengthAdjust="spacingAndGlyphs">0.00</text>
<text x="758.5" y="576" font-size="9.85" fill="#191970" stroke="#191970" stroke-width="0.05" textLength="39.5" lengthAdjust="spacingAndGlyphs">-0.006077</text>
<text x="2.5" y="591.5" font-size="9.85" fill="#191970" stroke="#191970" stroke-width="0.05" textLength="44" lengthAdjust="spacingAndGlyphs">7 Jan 2019</text>
<text x="66.5" y="591.5" font-size="9.85" fill="#191970" stroke="#191970" stroke-width="0.05" textLength="49.5" lengthAdjust="spacingAndGlyphs">17 Jan 2019</text>
<text x="130.5" y="591.5" font-size="9.85" fill="#191970" stroke="#191970" stroke-width="0.05" textLength="49" lengthAdjust="spacingAndGlyphs">29 Jan 2019</text>
<text x="194.5" y="591.5" font-size="9.85" fill="#191970" stroke="#191970" stroke-width="0.05" textLength="47.5" lengthAdjust="spacingAndGlyphs">8 Feb 2019</text>
<text x="258.5" y="591.5" font-size="9.85" fill="#191970" stroke="#191970" stroke-width="0.05" textLength="50.7" lengthAdjust="spacingAndGlyphs">20 Feb 2019</text>
<text x="322.5" y="591.5" font-size="9.85" fill="#191970" stroke="#191970" stroke-width="0.05" textLength="46.2" lengthAdjust="spacingAndGlyphs">4 Mar 2019</text>
<text x="386.5" y="591.5" font-size="9.85" fill="#191970" stroke="#191970" stroke-width="0.05" textLength="51.7" lengthAdjust="spacingAndGlyphs">14 Mar 2019</text>
<text x="450.5" y="591.5" font-size="9.85" fill="#191970" stroke="#191970" stroke-width="0.05" textLength="51.5" lengthAdjust="spacingAndGlyphs">26 Mar 2019</text>
<text x="514.5" y="591.5" font-size="9.85" fill="#191970" stroke="#191970" stroke-width="0.05" textLength="45" lengthAdjust="spacingAndGlyphs">5 Apr 2019</text>
<text x="578.5" y="591.5" font-size="9.85" fill="#191970" stroke="#191970" stroke-width="0.05" textLength="50.5" lengthAdjust="spacingAndGlyphs">17 Apr 2019</text>
<text x="642.5" y="591.5" font-size="9.85" fill="#191970" stroke="#191970" stroke-width="0.05" textLength="50.5" lengthAdjust="spacingAndGlyphs">29 Apr 2019</text>
<text x="706.5" y="591.5" font-size="9.85" fill="#191970" stroke="#191970" stroke-width="0.05" textLength="50" lengthAdjust="spacingAndGlyphs">9 May 2019</text>
<polygon points="6,9 13,9 9.5,12.8" fill="#191970"/>
<text x="18.4" y="14" font-size="9.85" fill="#191970" stroke="#191970" stroke-width="0.05" textLength="63.6" lengthAdjust="spacingAndGlyphs">GBPUSD,Daily</text>
<text x="88.5" y="14" font-size="9.85" fill="#191970" stroke="#191970" stroke-width="0.05" textLength="31.5" lengthAdjust="spacingAndGlyphs">1.29552</text>
<text x="124.5" y="14" font-size="9.85" fill="#191970" stroke="#191970" stroke-width="0.05" textLength="30.7" lengthAdjust="spacingAndGlyphs">1.29694</text>
<text x="160.5" y="14" font-size="9.85" fill="#191970" stroke="#191970" stroke-width="0.05" textLength="31.5" lengthAdjust="spacingAndGlyphs">1.29419</text>
<text x="196.5" y="14" font-size="9.85" fill="#191970" stroke="#191970" stroke-width="0.05" textLength="31.5" lengthAdjust="spacingAndGlyphs">1.29562</text>
<text x="7.9" y="533" font-size="9.85" fill="#191970" stroke="#191970" stroke-width="0.05" textLength="65.3" lengthAdjust="spacingAndGlyphs">MACD(12,26,9)</text>
<text x="76.6" y="533" font-size="9.85" fill="#191970" stroke="#191970" stroke-width="0.05" textLength="40.4" lengthAdjust="spacingAndGlyphs">-0.001715</text>
<text x="120.5" y="533" font-size="9.85" fill="#191970" stroke="#191970" stroke-width="0.05" textLength="41.2" lengthAdjust="spacingAndGlyphs">-0.001117</text>
</svg></body></html>
